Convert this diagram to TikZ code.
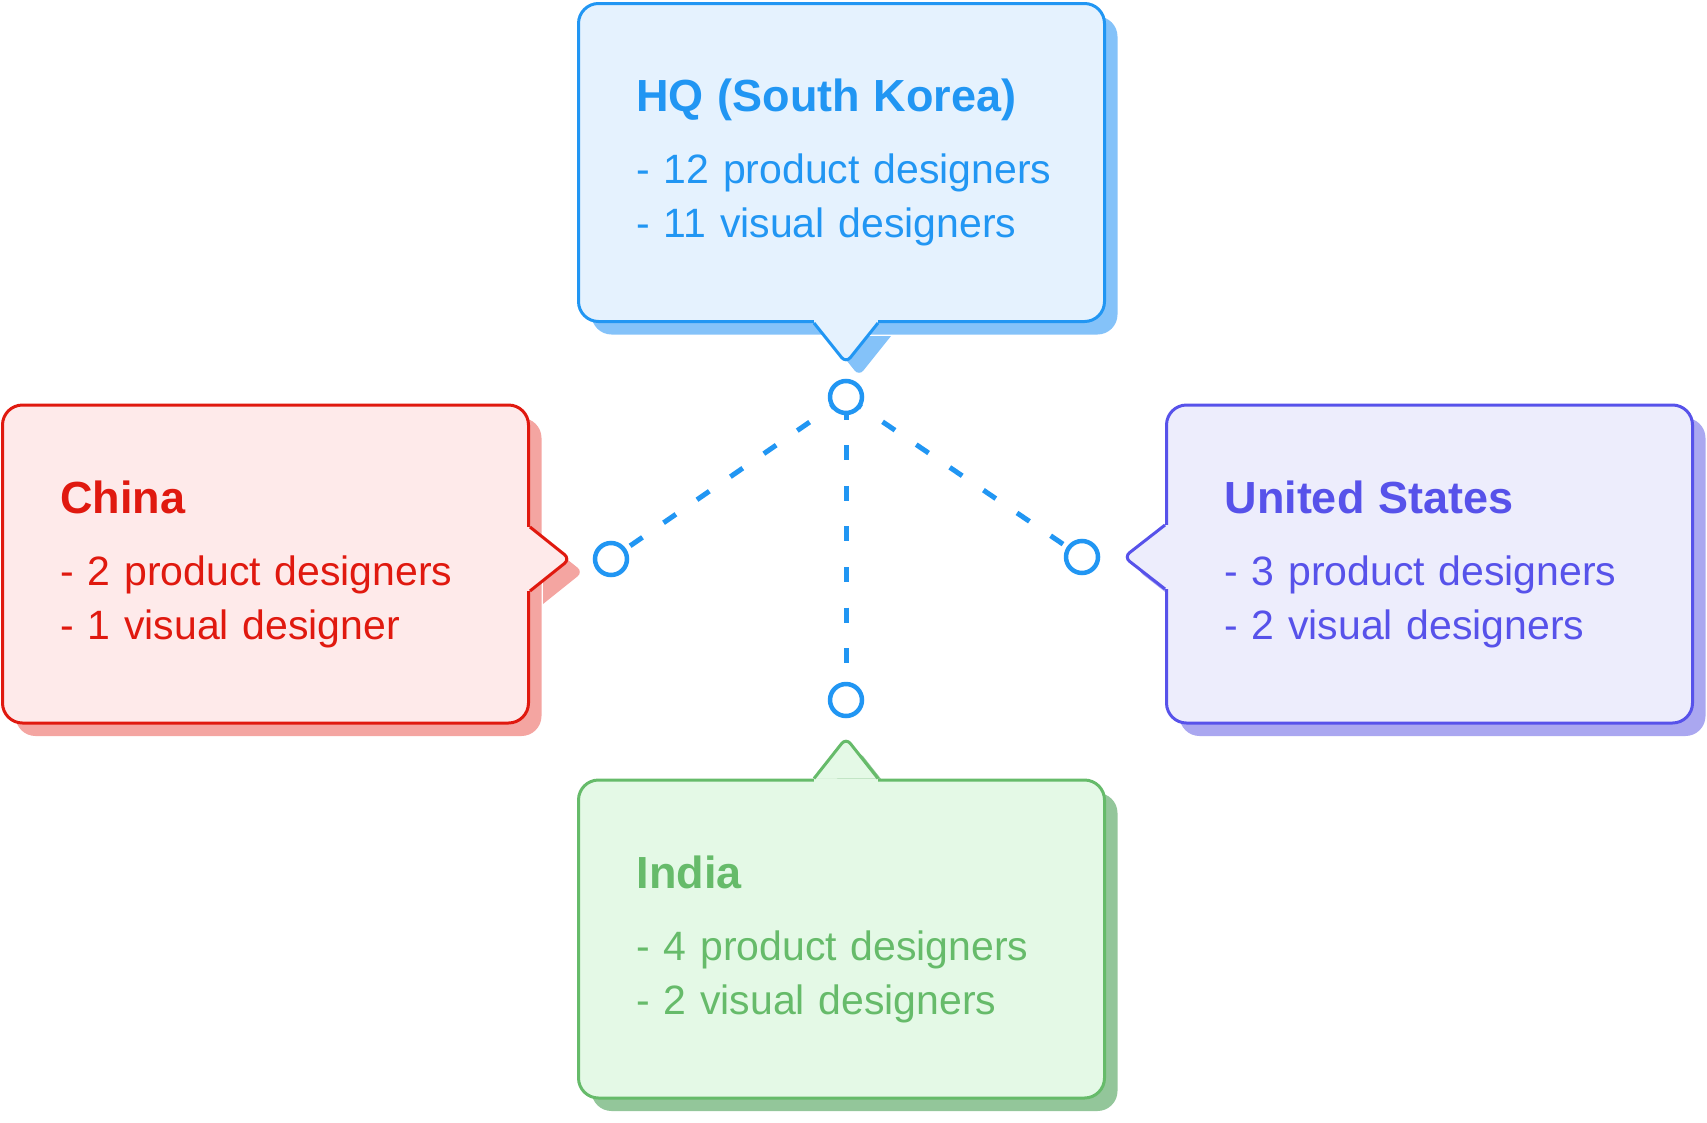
\documentclass[tikz,border=0pt]{standalone}
\usepackage{fontspec}
\setmainfont{Liberation Sans}
\usepackage{tikz}
\usetikzlibrary{shadows, calc, positioning}

\definecolor{hqline}{HTML}{2196F3}
\definecolor{hqfill}{HTML}{E5F2FE}
\definecolor{hqshade}{HTML}{84C2F9}
\definecolor{cnline}{HTML}{E0190F}
\definecolor{cnfill}{HTML}{FEEAEA}
\definecolor{cnshade}{HTML}{F4A5A1}
\definecolor{usline}{HTML}{5752EA}
\definecolor{usfill}{HTML}{EDEDFC}
\definecolor{usshade}{HTML}{AAA7F0}
\definecolor{indline}{HTML}{66BB6A}
\definecolor{indfill}{HTML}{E4F9E6}
\definecolor{indshade}{HTML}{93C69A}

\pgfdeclarelayer{background}
\pgfsetlayers{background,main}

\newcommand{\boxtitle}[1]{{\fontsize{45}{54}\selectfont\bfseries #1}\\[18pt]}
\newcommand{\entry}[1]{\mbox{#1}}
% pointer of a speech box: corners (#1a), (#1t), (#1b)
\newcommand{\calltail}[2]{%
	\begin{pgfonlayer}{background}
		\fill[#1shade, rounded corners=7pt] ($(#1a)+(13,13)$) -- ($(#1t)+(13,13)$) -- ($(#1b)+(13,13)$);
	\end{pgfonlayer}
	\fill[#1fill] (#1a) -- (#1b) -- ($(#1b)+#2$) -- ($(#1a)+#2$) -- cycle;
	\fill[#1fill, rounded corners=7pt] (#1a) -- (#1t) -- (#1b);
	\draw[#1line, line width=3pt, rounded corners=7pt] (#1a) -- (#1t) -- (#1b);
}

\begin{document}
\begin{tikzpicture}[x=1pt, y=-1pt,
	office/.style={rectangle, rounded corners=20pt, line width=3pt, draw=#1line, fill=#1fill, text=#1line,
		drop shadow={shadow xshift=13pt, shadow yshift=-13pt, fill=#1shade, opacity=1},
		minimum width=526pt, minimum height=318pt, text width=410pt, inner xsep=58pt, inner ysep=0pt,
		align=left, font=\fontsize{41}{54}\selectfont},
	dot/.style={circle, draw=hqline, fill=white, line width=4.5pt, minimum size=32pt, inner sep=0pt},
	link/.style={hqline, line width=5pt, dash pattern=on 15pt off 25.6pt, dash phase=37pt}]
	\useasboundingbox (0,0) rectangle (1707,1122);
	
	\node[office=hq] (hq) at (841.5,162.5) {\boxtitle{HQ (South Korea)}\entry{- 12 product designers}\\\entry{- 11 visual designers}};
	\node[office=cn] (china) at (265.5,564) {\boxtitle{China}\entry{- 2 product designers}\\\entry{- 1 visual designer}};
	\node[office=us] (states) at (1429.5,564) {\boxtitle{United States}\entry{- 3 product designers}\\\entry{- 2 visual designers}};
	\node[office=ind] (india) at (841.5,939) {\boxtitle{India}\entry{- 4 product designers}\\\entry{- 2 visual designers}};
	
	\node[dot] (hub) at (846,397) {};
	\node[dot] (dotcn) at (611,559) {};
	\node[dot] (dotus) at (1082,557) {};
	\node[dot] (dotin) at (846,700) {};
	
	\begin{pgfonlayer}{background}
		\draw[link] (hub.center) -- (dotcn.center);
		\draw[link] (hub.center) -- (dotus.center);
		\draw[link, dash phase=33pt] (hub.center) -- (dotin.center);
	\end{pgfonlayer}
	
	\coordinate (hqa) at ($(hub |- hq.south)+(-32,0)$);
	\coordinate (hqb) at ($(hub |- hq.south)+(32,0)$);
	\coordinate (hqt) at ($(hub)+(0,-34)$);
	\coordinate (cna) at ($(dotcn -| china.east)+(0,-32)$);
	\coordinate (cnb) at ($(dotcn -| china.east)+(0,32)$);
	\coordinate (cnt) at ($(dotcn)+(-41,0)$);
	\coordinate (usa) at ($(dotus -| states.west)+(0,-32)$);
	\coordinate (usb) at ($(dotus -| states.west)+(0,32)$);
	\coordinate (ust) at ($(dotus)+(42,0)$);
	\coordinate (inda) at ($(dotin |- india.north)+(-32,0)$);
	\coordinate (indb) at ($(dotin |- india.north)+(32,0)$);
	\coordinate (indt) at ($(dotin)+(0,38)$);
	
	\calltail{hq}{(0,-5)}
	\calltail{cn}{(-5,0)}
	\calltail{us}{(5,0)}
	\calltail{ind}{(0,5)}
\end{tikzpicture}
\end{document}
